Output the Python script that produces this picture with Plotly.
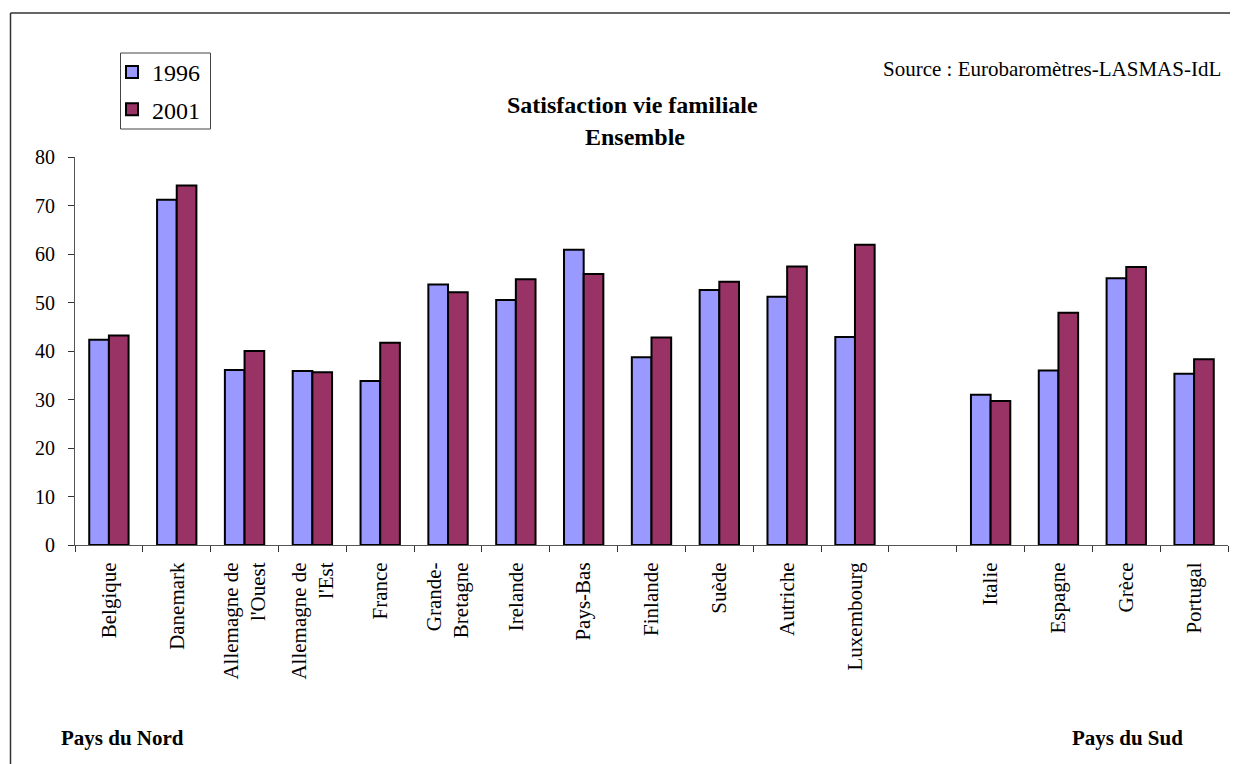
import plotly.graph_objects as go

categories = ["Belgique", "Danemark", "Allemagne de<br>l'Ouest", "Allemagne de<br>l'Est", "France",
              "Grande-<br>Bretagne", "Irelande", "Pays-Bas", "Finlande", "Suède", "Autriche",
              "Luxembourg", " ", "Italie", "Espagne", "Grèce", "Portugal"]
values_1996 = [42.3, 71.2, 36.1, 35.9, 33.8, 53.7, 50.5, 60.9, 38.7, 52.6, 51.2, 42.9, None,
               31.0, 36.0, 55.0, 35.3]
values_2001 = [43.2, 74.1, 40.0, 35.6, 41.7, 52.1, 54.8, 55.9, 42.8, 54.3, 57.4, 61.9, None,
               29.7, 47.9, 57.3, 38.3]
series_names = ["1996", "2001"]
y_ticks = [0, 10, 20, 30, 40, 50, 60, 70, 80]

FONT = "Liberation Serif"
OFF = 8  # page body margin offset
W, H = 1238 - OFF, 764 - OFF
# plot area in reference pixel coords: x 75..1228, y 157..545
L, T = 75 - OFF, 157 - OFF
R = W - (1228 - OFF)
B = H - (545 - OFF)
PW = W - L - R
PH = H - T - B

def px(x):
    return (x - OFF - L) / PW

def py(y):
    return (H - B - (y - OFF)) / PH

fig = go.Figure()
fig.add_trace(go.Bar(x=categories, y=values_1996, name=series_names[0], legendgroup="a",
                     marker=dict(color="#9999FF", line=dict(color="black", width=2))))
fig.add_trace(go.Bar(x=categories, y=values_2001, name=series_names[1], legendgroup="b",
                     marker=dict(color="#993366", line=dict(color="black", width=2))))

fig.update_layout(
    width=W, height=H,
    margin=dict(l=L, r=R, t=T, b=B),
    paper_bgcolor="white", plot_bgcolor="white",
    barmode="group", bargap=0.42, bargroupgap=0,
    font=dict(family=FONT, color="black", size=20),
    showlegend=True,
    legend=dict(x=px(112), y=py(50), xanchor="left", yanchor="top",
                bgcolor="rgba(0,0,0,0)", borderwidth=0,
                font=dict(size=24, family=FONT), traceorder="grouped", tracegroupgap=3,
                itemwidth=30),
)
fig.update_xaxes(type="category", categoryorder="array", categoryarray=categories,
                 tickangle=-90, tickson="boundaries", ticks="outside", ticklen=6,
                 tickcolor="#333", showline=True, linecolor="#555", linewidth=1,
                 showgrid=False, tickfont=dict(size=21, family=FONT), ticklabelstandoff=8)
fig.update_yaxes(range=[0, 80], tickvals=y_ticks, ticks="outside", ticklen=6,
                 tickcolor="#333", showline=True, linecolor="#555", linewidth=1,
                 showgrid=False, zeroline=False, tickfont=dict(size=20, family=FONT),
                 ticklabelstandoff=9)

ann = dict(xref="paper", yref="paper", showarrow=False, font=dict(family=FONT, color="black"))
fig.add_annotation(**ann, x=px(632), y=py(105), text="<b>Satisfaction vie familiale</b>",
                   xanchor="center", yanchor="middle", font_size=24)
fig.add_annotation(**ann, x=px(635), y=py(137), text="<b>Ensemble</b>",
                   xanchor="center", yanchor="middle", font_size=24)
fig.add_annotation(**ann, x=px(1223), y=py(69), text="Source : Eurobaromètres-LASMAS-IdL",
                   xanchor="right", yanchor="middle", font_size=21)
fig.add_annotation(**ann, x=px(59), y=py(738), text="<b>Pays du Nord</b>",
                   xanchor="left", yanchor="middle", font_size=21)
fig.add_annotation(**ann, x=px(1185), y=py(738), text="<b>Pays du Sud</b>",
                   xanchor="right", yanchor="middle", font_size=21)

# outer frame (top and left edges visible)
fig.add_shape(type="line", xref="paper", yref="paper", x0=px(10.5), x1=px(1245),
              y0=py(13), y1=py(13), line=dict(color="#333", width=1.5))
fig.add_shape(type="line", xref="paper", yref="paper", x0=px(10.5), x1=px(10.5),
              y0=py(13), y1=py(770), line=dict(color="#333", width=1.5))
# legend frame
fig.add_shape(type="rect", xref="paper", yref="paper", x0=px(120.5), x1=px(210.5),
              y0=py(53), y1=py(129), line=dict(color="#444", width=1), layer="below")

fig.write_html("out.html")
